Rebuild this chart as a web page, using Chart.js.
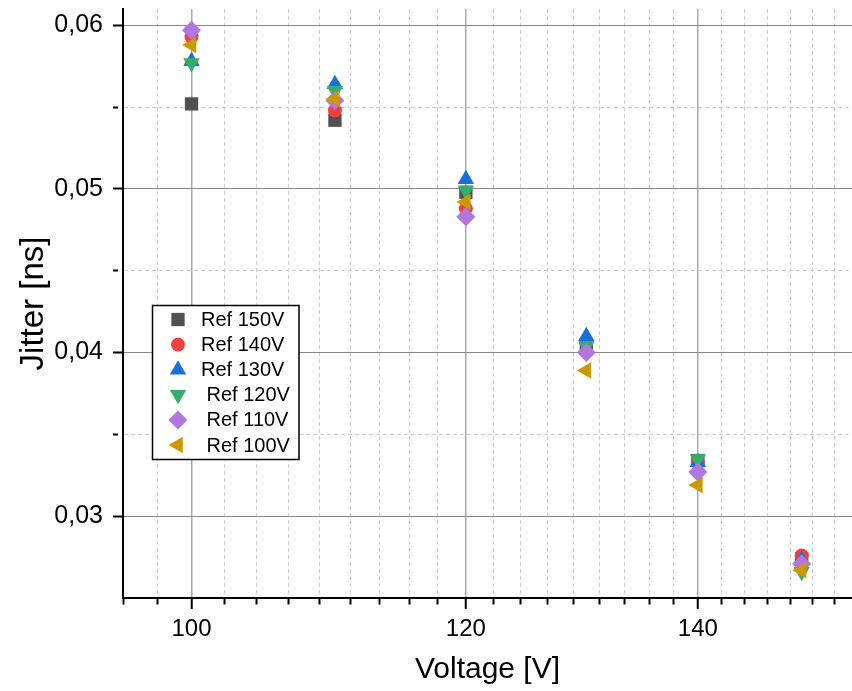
<!DOCTYPE html>
<html>
<head>
<meta charset="utf-8">
<title>Jitter vs Voltage</title>
<script src="https://cdn.jsdelivr.net/npm/chart.js@4.4.1/dist/chart.umd.min.js"></script>
<style>
    html, body { margin: 0; padding: 0; background: #fff; }
    #chart { display: block; }
</style>
</head>
<body>
<canvas id="chart" width="852" height="691"></canvas>
<script>
// values
var voltages = [100, 110, 120, 130, 140, 150];
var ref150 = [0.0552, 0.0542, 0.0498, 0.0405, 0.0334, 0.0274];
var ref140 = [0.0593, 0.0548, 0.0488, 0.0406, 0.0333, 0.0276];
var ref130 = [0.0578, 0.0564, 0.0506, 0.0410, 0.0333, 0.0273];
var ref120 = [0.0577, 0.0560, 0.0499, 0.0404, 0.0335, 0.0266];
var ref110 = [0.0597, 0.0554, 0.0483, 0.0400, 0.0327, 0.0271];
var ref100 = [0.0588, 0.0555, 0.0492, 0.0389, 0.0319, 0.0267];

var seriesLabels = ['Ref 150V', 'Ref 140V', 'Ref 130V', ' Ref 120V', ' Ref 110V', ' Ref 100V'];

var xMajorTicks = [100, 120, 140];
var xMinorPerStep = 8;
var yTicks = [0.03, 0.035, 0.04, 0.045, 0.05, 0.055, 0.06];
var yMajorTicks = [0.03, 0.04, 0.05, 0.06];

var Plot = {
    s: {
        canvas: document.getElementById('chart'),
        font: '"Liberation Sans", Arial, sans-serif',
        colors: ['#515151', '#F14040', '#1A6FDF', '#37AD6B', '#B177DE', '#CC9900'],
        styles: ['rect', 'circle', 'triangle', 'triangle', 'rectRot', 'triangle'],
        rotations: [0, 0, 0, 180, 0, -90],
        radii: [9.4, 7, 9.5, 9.5, 9.5, 9.5],
        xMin: 95.55,
        xMax: 155.1
    },

    init: function () {
        Chart.defaults.font.family = Plot.s.font;
        Chart.defaults.color = '#000';
        Plot.buildChart();
    },

    isMajorX: function (v) {
        return xMajorTicks.indexOf(v) >= 0;
    },
    isMajorY: function (v) {
        for (let i = 0; i < yMajorTicks.length; i++) {
            if (Math.abs(yMajorTicks[i] - v) < 1e-9) return true;
        }
        return false;
    },
    xTicks: function () {
        let ticks = [];
        let step = (xMajorTicks[1] - xMajorTicks[0]) / (xMinorPerStep + 1);
        for (let i = -5; i < 40; i++) {
            let v = Math.round((xMajorTicks[0] + i * step) * 1000) / 1000;
            if (v >= Plot.s.xMin && v <= Plot.s.xMax) ticks.push({value: v});
        }
        return ticks;
    },

    // draws the framed legend inside the plot like the original
    legendPlugin: {
        id: 'boxLegend',
        afterDatasetsDraw: function (chart) {
            let ctx = chart.ctx;
            ctx.save();
            ctx.fillStyle = '#fff';
            ctx.strokeStyle = '#000';
            ctx.lineWidth = 1.5;
            ctx.fillRect(152.5, 305.5, 146.5, 154);
            ctx.strokeRect(152.5, 305.5, 146.5, 154);
            ctx.font = '20px ' + Plot.s.font;
            ctx.textBaseline = 'middle';
            ctx.textAlign = 'left';
            chart.data.datasets.forEach(function (ds, i) {
                let y = 319.5 + i * 25.1;
                ctx.fillStyle = ds.backgroundColor;
                Chart.helpers.drawPoint(ctx, {
                    pointStyle: ds.pointStyle,
                    rotation: ds.pointRotation,
                    radius: ds.pointRadius,
                    borderWidth: 0
                }, 178, y);
                ctx.fillStyle = '#000';
                ctx.fillText(ds.label, 201, y + 1);
            });
            ctx.restore();
        }
    },

    buildChart: function () {
        let series = [ref150, ref140, ref130, ref120, ref110, ref100];
        let datasets = [];
        for (let i = 0; i < series.length; i++) {
            let points = [];
            for (let j = 0; j < voltages.length; j++) {
                points.push({x: voltages[j], y: series[i][j]});
            }
            datasets.push({
                label: seriesLabels[i],
                data: points,
                backgroundColor: Plot.s.colors[i],
                borderColor: Plot.s.colors[i],
                pointStyle: Plot.s.styles[i],
                pointRotation: Plot.s.rotations[i],
                pointRadius: Plot.s.radii[i],
                pointHoverRadius: Plot.s.radii[i],
                pointBorderWidth: 0,
                order: series.length - i
            });
        }

        let chartOptions = {
            responsive: false,
            animation: false,
            events: [],
            layout: {
                autoPadding: false,
                padding: {top: 9, left: 0, right: 0, bottom: 0}
            },
            plugins: {
                legend: {display: false},
                tooltip: {enabled: false}
            },
            scales: {
                x: {
                    type: 'logarithmic',
                    min: Plot.s.xMin,
                    max: Plot.s.xMax,
                    bounds: 'data',
                    afterBuildTicks: function (scale) {
                        scale.ticks = Plot.xTicks();
                    },
                    afterFit: function (scale) {
                        scale.height = 93;
                        scale.paddingLeft = 0;
                        scale.paddingRight = 0;
                    },
                    ticks: {
                        autoSkip: false,
                        maxRotation: 0,
                        padding: 6,
                        color: '#000',
                        font: {size: 24},
                        callback: function (value) {
                            return Plot.isMajorX(value) ? String(value) : '';
                        }
                    },
                    grid: {
                        color: function (c) {
                            return c.tick && Plot.isMajorX(c.tick.value) ? '#aaaaaa' : '#cccccc';
                        },
                        lineWidth: function (c) {
                            return c.tick && Plot.isMajorX(c.tick.value) ? 1.5 : 1;
                        },
                        tickLength: 11,
                        tickWidth: 2,
                        tickColor: '#000',
                        tickBorderDash: function (c) {
                            return c.tick && Plot.isMajorX(c.tick.value) ? [] : [5.5, 50];
                        }
                    },
                    border: {
                        color: '#000',
                        width: 2,
                        dash: function (c) {
                            return c.tick && !Plot.isMajorX(c.tick.value) ? [4, 3] : [];
                        }
                    },
                    title: {
                        display: true,
                        text: 'Voltage [V]',
                        color: '#000',
                        font: {size: 30},
                        padding: {top: 0, bottom: 3}
                    }
                },
                y: {
                    type: 'linear',
                    min: 0.025,
                    max: 0.061,
                    bounds: 'data',
                    afterBuildTicks: function (scale) {
                        scale.ticks = yTicks.map(function (v) { return {value: v}; });
                    },
                    afterFit: function (scale) {
                        scale.width = 123;
                        scale.paddingTop = 0;
                        scale.paddingBottom = 0;
                    },
                    ticks: {
                        padding: 10,
                        color: '#000',
                        font: {size: 25},
                        callback: function (value) {
                            return Plot.isMajorY(value) ? value.toFixed(2).replace('.', ',') : '';
                        }
                    },
                    grid: {
                        color: function (c) {
                            return c.tick && Plot.isMajorY(c.tick.value) ? '#888888' : '#cccccc';
                        },
                        lineWidth: 1,
                        tickLength: 10,
                        tickWidth: 2,
                        tickColor: '#000',
                        tickBorderDash: function (c) {
                            return c.tick && Plot.isMajorY(c.tick.value) ? [] : [5, 50];
                        }
                    },
                    border: {
                        color: '#000',
                        width: 2,
                        dash: function (c) {
                            return c.tick && !Plot.isMajorY(c.tick.value) ? [4, 3] : [];
                        }
                    },
                    title: {
                        display: true,
                        text: 'Jitter [ns]',
                        color: '#000',
                        font: {size: 33},
                        padding: {top: 14, bottom: 0}
                    }
                }
            }
        };

        let chart = new Chart(Plot.s.canvas, {
            type: 'scatter',
            data: {datasets: datasets},
            options: chartOptions,
            plugins: [Plot.legendPlugin]
        });
    }
};

Plot.init();
</script>
</body>
</html>
